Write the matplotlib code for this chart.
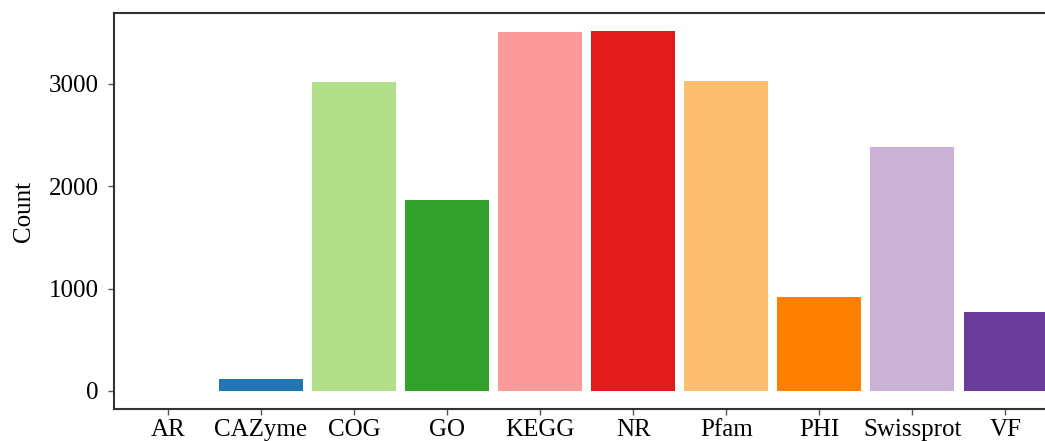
import numpy as np
import matplotlib.pyplot as plt

# data
categories = ['AR', 'CAZyme', 'COG', 'GO', 'KEGG', 'NR', 'Pfam', 'PHI', 'Swissprot', 'VF']
counts = [0, 118, 3020, 1860, 3505, 3515, 3030, 915, 2378, 770]

plt.rcParams['font.family'] = ['Liberation Serif', 'DejaVu Serif']

fig = plt.figure(figsize=(10.45, 4.41), dpi=100)
ax = fig.add_axes([114 / 1045, 32 / 441, 950 / 1045, 396 / 441])

colors = plt.cm.Paired(np.arange(len(categories)))
x = np.arange(len(categories))
ax.bar(x, counts, width=0.9, color=colors)

ax.set_xticks(x)
ax.set_xticklabels(categories)
ax.set_xlim(-0.58, 9.63)
ax.set_ylim(-176, 3690)
ax.set_yticks([0, 1000, 2000, 3000])
ax.set_ylabel('Count', fontsize=18, labelpad=10)
ax.tick_params(labelsize=18, length=4, width=1, color='#555555')
ax.tick_params(axis='y', pad=7)
ax.tick_params(axis='x', pad=3)

for side in ['left', 'bottom', 'top', 'right']:
    ax.spines[side].set_color('#333333')
    ax.spines[side].set_linewidth(1.5)

fig.savefig('out.png', dpi=100)
